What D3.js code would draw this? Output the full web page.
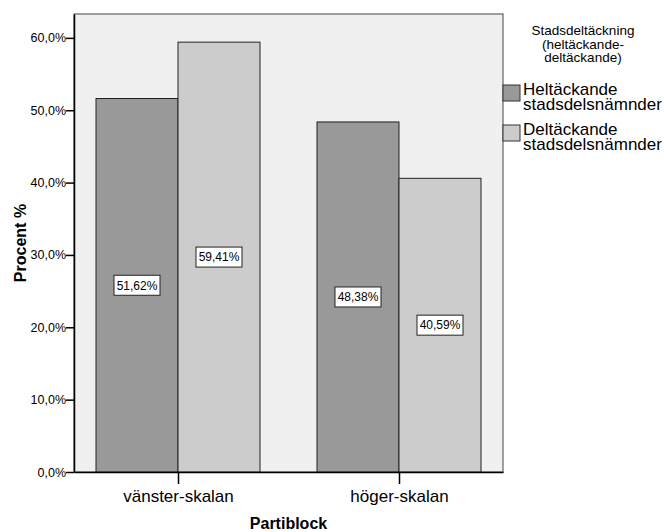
<!DOCTYPE html>
<html>
<head>
<meta charset="utf-8">
<script src="https://cdn.jsdelivr.net/npm/d3@7"></script>
<style>
  body { margin: 0; background: #fff; }
  svg { font-family: "Liberation Sans", Arial, sans-serif; display: block; }
</style>
</head>
<body>
<div id="container"></div>
<script>
(function () {
  // data
  var categories = ["vänster-skalan", "höger-skalan"];
  var seriesNames = ["Heltäckande stadsdelsnämnder", "Deltäckande stadsdelsnämnder"];
  var heltackande = [51.62, 48.38];
  var deltackande = [59.41, 40.59];
  var yTicks = [0, 10, 20, 30, 40, 50, 60];
  var legendTitle = ["Stadsdeltäckning", "(heltäckande-", "deltäckande)"];

  var width = 664, height = 532;
  var left = 74, right = 503, top = 14, bottom = 472;
  var colors = ["#999999", "#cccccc"];

  var sv = d3.formatLocale({ decimal: ",", thousands: " ", grouping: [3], currency: ["", " kr"] });
  var fmtTick = sv.format(".1f"), fmtVal = sv.format(".2f");

  var svg = d3.select("#container").append("svg").attr("width", width).attr("height", height);

  var x = d3.scalePoint().domain(categories).range([left, right]).padding(0.4706);
  var sub = d3.scaleBand().domain(seriesNames).range([-82, 82]);
  var y = d3.scaleLinear().domain([0, 63.3]).range([bottom, top]);

  var rows = [];
  categories.forEach(function (c, i) {
    rows.push({ cat: c, s: 0, v: heltackande[i] });
    rows.push({ cat: c, s: 1, v: deltackande[i] });
  });

  // plot background
  svg.append("rect").attr("x", left).attr("y", top).attr("width", right - left).attr("height", bottom - top)
    .attr("fill", "#f0f0f0").attr("stroke", "#444").attr("stroke-width", 1);

  // bars
  svg.selectAll(".bar").data(rows).enter().append("rect").attr("class", "bar")
    .attr("x", function (d) { return x(d.cat) + sub(seriesNames[d.s]); })
    .attr("y", function (d) { return y(d.v); })
    .attr("width", sub.bandwidth())
    .attr("height", function (d) { return y(0) - y(d.v); })
    .attr("fill", function (d) { return colors[d.s]; })
    .attr("stroke", "#222").attr("stroke-width", 1);

  // value labels at half height
  var lab = svg.selectAll(".lab").data(rows).enter().append("g").attr("class", "lab")
    .attr("transform", function (d) {
      return "translate(" + (x(d.cat) + sub(seriesNames[d.s]) + sub.bandwidth() / 2) + "," + y(d.v / 2) + ")";
    });
  lab.append("rect").attr("x", -23).attr("y", -10).attr("width", 46).attr("height", 20)
    .attr("fill", "#fff").attr("stroke", "#222").attr("stroke-width", 1);
  lab.append("text").attr("text-anchor", "middle").attr("dy", "0.36em")
    .attr("font-size", 12).attr("fill", "#000")
    .text(function (d) { return fmtVal(d.v) + "%"; });

  // y axis
  var yAxis = svg.append("g").attr("transform", "translate(" + left + ",0)")
    .call(d3.axisLeft(y).tickValues(yTicks).tickSize(8).tickSizeOuter(0)
      .tickFormat(function (d) { return fmtTick(d) + "%"; }));
  yAxis.selectAll("text").attr("font-size", 12.5).attr("fill", "#000").attr("x", -8);
  yAxis.selectAll("line").attr("stroke", "#000").attr("stroke-width", 1.5);
  yAxis.select(".domain").attr("stroke", "#000").attr("stroke-width", 1.5);

  // x axis
  var xAxis = svg.append("g").attr("transform", "translate(0," + bottom + ")")
    .call(d3.axisBottom(x).tickSize(12).tickSizeOuter(0));
  xAxis.selectAll("text").attr("font-size", 17).attr("fill", "#000").attr("dy", 0).attr("y", 30);
  xAxis.selectAll("line").attr("stroke", "#000").attr("stroke-width", 1.5);
  xAxis.select(".domain").attr("stroke", "#000").attr("stroke-width", 1.5);

  // axis titles
  svg.append("text").attr("x", (left + right) / 2).attr("y", 529).attr("text-anchor", "middle")
    .attr("font-size", 16).attr("font-weight", "bold").text("Partiblock");
  svg.append("text").attr("transform", "translate(26," + (top + bottom) / 2 + ") rotate(-90)")
    .attr("text-anchor", "middle").attr("font-size", 16).attr("font-weight", "bold").text("Procent %");

  // legend
  svg.append("text").attr("x", 583).attr("y", 35).attr("text-anchor", "middle").attr("font-size", 13.5)
    .selectAll("tspan").data(legendTitle).enter().append("tspan")
    .attr("x", 583).attr("dy", function (d, i) { return i ? 13.5 : 0; }).text(function (d) { return d; });

  var leg = svg.selectAll(".leg").data(seriesNames).enter().append("g").attr("class", "leg")
    .attr("transform", function (d, i) { return "translate(503," + (85 + i * 40) + ")"; });
  leg.append("rect").attr("width", 17).attr("height", 16)
    .attr("fill", function (d, i) { return colors[i]; }).attr("stroke", "#333").attr("stroke-width", 1);
  leg.append("text").attr("font-size", 17).attr("fill", "#000")
    .selectAll("tspan").data(function (d) { return d.split(" "); }).enter().append("tspan")
    .attr("x", 20).attr("y", function (d, i) { return 10 + i * 15; }).text(function (d) { return d; });
})();
</script>
</body>
</html>
